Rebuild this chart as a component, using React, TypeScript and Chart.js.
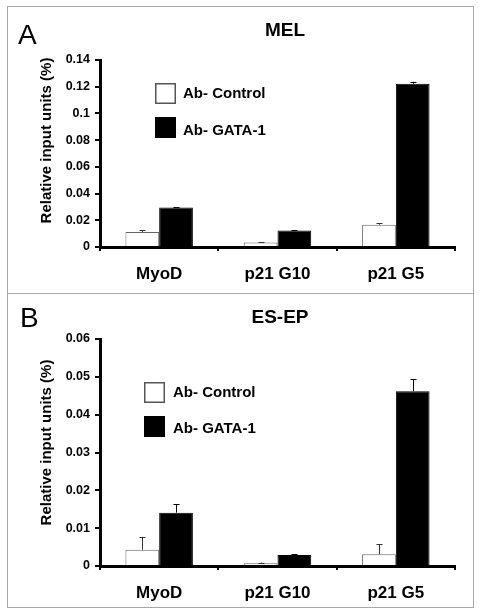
import React, { useEffect, useRef } from 'react';
import { Chart, registerables } from 'chart.js';

Chart.register(...registerables);

const categories = ['MyoD', 'p21 G10', 'p21 G5'];
const seriesNames = ['Ab- Control', 'Ab- GATA-1'];

// Panel A — MEL
const melControl = [0.0113, 0.0034, 0.0167];
const melControlErr = [0.0012, 0.0003, 0.0012];
const melGata = [0.0295, 0.0123, 0.1222];
const melGataErr = [0.0004, 0.0003, 0.0015];
const melTicks = ['0', '0.02', '0.04', '0.06', '0.08', '0.1', '0.12', '0.14'];

// Panel B — ES-EP
const esControl = [0.0043, 0.0007, 0.0031];
const esControlErr = [0.0034, 0.0002, 0.0027];
const esGata = [0.0141, 0.0029, 0.0462];
const esGataErr = [0.0022, 0.0002, 0.0032];
const esTicks = ['0', '0.01', '0.02', '0.03', '0.04', '0.05', '0.06'];

const FONT = '"Liberation Sans", Arial, Helvetica, sans-serif';

type PanelCfg = {
  letter: string;
  title: string;
  control: number[];
  controlErr: number[];
  gata: number[];
  gataErr: number[];
  ticks: string[];
  max: number;
  step: number;
  width: number;
  height: number;
  padTop: number;
  xAxisHeight: number;
  letterPos: [number, number];
  titlePos: [number, number];
  legendBoxX: number;
  legendBoxY: [number, number];
  legendTextX: number;
  legendTextY: [number, number];
  yTitlePos: [number, number];
};

const panelA: PanelCfg = {
  letter: 'A',
  title: 'MEL',
  control: melControl,
  controlErr: melControlErr,
  gata: melGata,
  gataErr: melGataErr,
  ticks: melTicks,
  max: 0.14,
  step: 0.02,
  width: 464,
  height: 285,
  padTop: 53,
  xAxisHeight: 45,
  letterPos: [10, 37],
  titlePos: [277, 29],
  legendBoxX: 147,
  legendBoxY: [76, 110],
  legendTextX: 175,
  legendTextY: [91, 128],
  yTitlePos: [39, 133.5],
};

const panelB: PanelCfg = {
  letter: 'B',
  title: 'ES-EP',
  control: esControl,
  controlErr: esControlErr,
  gata: esGata,
  gataErr: esGataErr,
  ticks: esTicks,
  max: 0.06,
  step: 0.01,
  width: 464,
  height: 312,
  padTop: 45,
  xAxisHeight: 40,
  letterPos: [12, 33],
  titlePos: [272, 29],
  legendBoxX: 136,
  legendBoxY: [88, 122],
  legendTextX: 165,
  legendTextY: [103, 139],
  yTitlePos: [39, 148.5],
};

function makeOverlay(cfg: PanelCfg) {
  return {
    id: 'overlay',
    afterDatasetsDraw(chart: any) {
      const ctx = chart.ctx;
      const yScale = chart.scales.y;
      const errs = [cfg.controlErr, cfg.gataErr];
      const vals = [cfg.control, cfg.gata];
      ctx.save();
      for (let d = 0; d < 2; d++) {
        const meta = chart.getDatasetMeta(d);
        meta.data.forEach((bar: any, i: number) => {
          const yTop = yScale.getPixelForValue(vals[d][i] + errs[d][i]);
          const yBase = bar.y;
          ctx.strokeStyle = d === 0 ? '#333' : '#000';
          ctx.lineWidth = 1;
          ctx.beginPath();
          ctx.moveTo(Math.round(bar.x) + 0.5, yBase);
          ctx.lineTo(Math.round(bar.x) + 0.5, yTop);
          ctx.moveTo(Math.round(bar.x) - 2.5, Math.round(yTop) + 0.5);
          ctx.lineTo(Math.round(bar.x) + 3.5, Math.round(yTop) + 0.5);
          ctx.stroke();
        });
      }
      ctx.restore();
    },
    afterDraw(chart: any) {
      const ctx = chart.ctx;
      ctx.save();
      ctx.fillStyle = '#000';
      // Panel letter
      ctx.font = `normal 28px ${FONT}`;
      ctx.textAlign = 'left';
      ctx.textBaseline = 'alphabetic';
      ctx.fillText(cfg.letter, cfg.letterPos[0], cfg.letterPos[1]);
      // Title
      ctx.font = `bold 19px ${FONT}`;
      ctx.textAlign = 'center';
      ctx.fillText(cfg.title, cfg.titlePos[0], cfg.titlePos[1]);
      // Legend
      const ds = chart.data.datasets;
      ctx.textAlign = 'left';
      ctx.font = `bold 15px ${FONT}`;
      for (let d = 0; d < 2; d++) {
        const bx = cfg.legendBoxX;
        const by = cfg.legendBoxY[d];
        if (d === 0) {
          ctx.fillStyle = '#fff';
          ctx.fillRect(bx, by, 21, 21);
          ctx.strokeStyle = '#555';
          ctx.lineWidth = 1.5;
          ctx.strokeRect(bx + 0.75, by + 0.75, 19.5, 19.5);
        } else {
          ctx.fillStyle = '#000';
          ctx.fillRect(bx, by, 21, 21);
        }
        ctx.fillStyle = '#000';
        ctx.fillText(ds[d].label, cfg.legendTextX, cfg.legendTextY[d]);
      }
      // Y axis title
      ctx.translate(cfg.yTitlePos[0], cfg.yTitlePos[1]);
      ctx.rotate(-Math.PI / 2);
      ctx.textAlign = 'center';
      ctx.textBaseline = 'middle';
      ctx.font = `bold 15px ${FONT}`;
      ctx.fillText('Relative input units (%)', 0, 0);
      ctx.restore();
    },
  };
}

function Panel({ cfg, left, top }: { cfg: PanelCfg; left: number; top: number }) {
  const ref = useRef<HTMLCanvasElement>(null);
  useEffect(() => {
    if (!ref.current) return;
    const chart = new Chart(ref.current, {
      type: 'bar',
      data: {
        labels: categories,
        datasets: [
          {
            label: seriesNames[0],
            data: cfg.control,
            backgroundColor: '#ffffff',
            borderColor: '#666666',
            borderWidth: 1,
            categoryPercentage: 0.57,
            barPercentage: 1.0,
          },
          {
            label: seriesNames[1],
            data: cfg.gata,
            backgroundColor: '#000000',
            borderColor: '#000000',
            borderWidth: 1,
            categoryPercentage: 0.57,
            barPercentage: 1.0,
          },
        ],
      },
      options: {
        responsive: false,
        animation: false,
        devicePixelRatio: 1,
        layout: { padding: { top: cfg.padTop, right: 17, left: 0, bottom: 0 } },
        plugins: {
          legend: { display: false },
          tooltip: { enabled: false },
          title: { display: false },
        },
        scales: {
          x: {
            type: 'category',
            offset: true,
            z: 1,
            grid: {
              offset: true,
              drawOnChartArea: false,
              drawTicks: true,
              tickLength: 4,
              color: '#000',
              lineWidth: 2,
            },
            border: { display: true, color: '#000', width: 3 },
            ticks: {
              color: '#000',
              font: { family: FONT, size: 17, weight: 'bold' },
              padding: 13,
              maxRotation: 0,
              autoSkip: false,
            },
            afterFit: (s: any) => {
              s.height = cfg.xAxisHeight;
              s.paddingLeft = 0;
              s.paddingRight = 0;
            },
          },
          y: {
            min: 0,
            max: cfg.max,
            z: 1,
            ticks: {
              stepSize: cfg.step,
              color: '#000',
              font: { family: FONT, size: 12.5, weight: 'bold' },
              padding: 5,
              callback: (v: any) => cfg.ticks[Math.round(Number(v) / cfg.step)] ?? '',
            },
            grid: {
              drawOnChartArea: false,
              drawTicks: true,
              tickLength: 5,
              color: '#000',
              lineWidth: 2,
            },
            border: { display: true, color: '#000', width: 3 },
            afterFit: (s: any) => {
              s.width = 92;
              s.paddingTop = 0;
              s.paddingBottom = 0;
            },
          },
        },
      } as any,
      plugins: [makeOverlay(cfg)],
    });
    return () => chart.destroy();
  }, [cfg]);
  return (
    <canvas
      ref={ref}
      width={cfg.width}
      height={cfg.height}
      style={{
        position: 'absolute',
        left,
        top,
        width: cfg.width,
        height: cfg.height,
        display: 'block',
      }}
    />
  );
}

export default function App() {
  return (
    <div>
      <div
        style={{
          position: 'absolute',
          left: 7,
          top: 6,
          width: 465,
          height: 600,
          border: '1px solid #a8a8a8',
          background: '#fff',
        }}
      />
      <div
        style={{
          position: 'absolute',
          left: 7,
          top: 293,
          width: 467,
          height: 1,
          background: '#a8a8a8',
        }}
      />
      <Panel cfg={panelA} left={8} top={7} />
      <Panel cfg={panelB} left={8} top={294} />
    </div>
  );
}
